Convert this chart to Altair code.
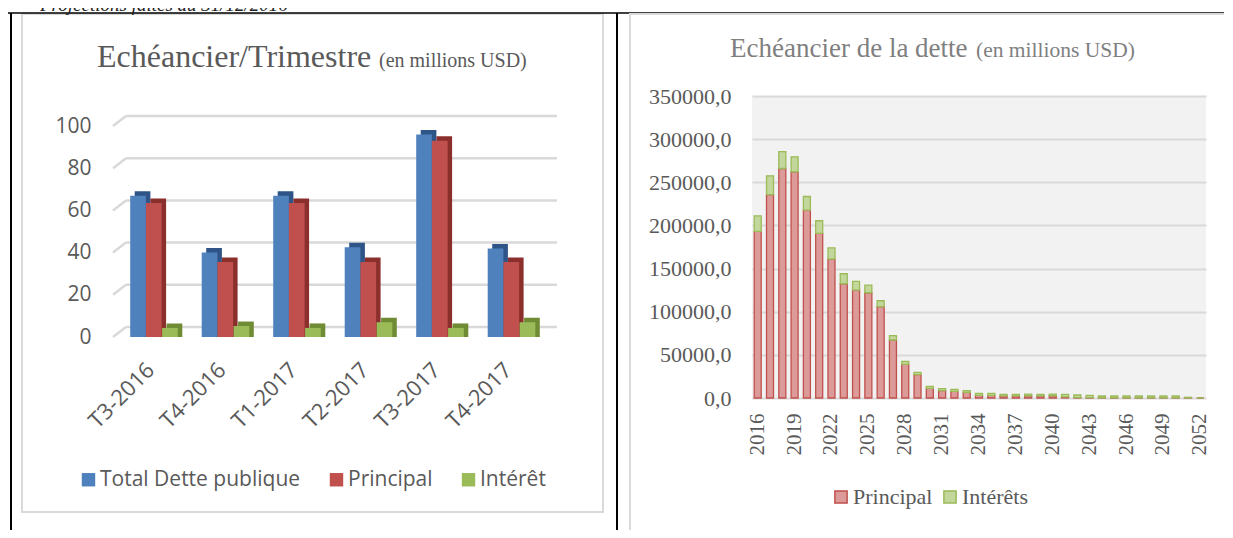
import altair as alt
import pandas as pd

# ---------------- Left chart data (Echéancier/Trimestre) ----------------
quarters = ["T3-2016", "T4-2016", "T1-2017", "T2-2017", "T3-2017", "T4-2017"]
series_left = ["Total Dette publique", "Principal", "Intérêt"]
total_dette = [67.0, 40.0, 67.0, 42.5, 96.0, 42.0]
principal_q = [63.5, 35.5, 63.5, 35.5, 93.0, 35.5]
interet_q = [4.3, 5.2, 4.3, 7.0, 4.3, 7.0]
left_ticks = [0, 20, 40, 60, 80, 100]

# ---------------- Right chart data (Echéancier de la dette) ----------------
years = ["2016", "2017", "2018", "2019", "2020", "2021", "2022", "2023", "2024",
         "2025", "2026", "2027", "2028", "2029", "2030", "2031", "2032", "2033",
         "2034", "2035", "2036", "2037", "2038", "2039", "2040", "2041", "2042",
         "2043", "2044", "2045", "2046", "2047", "2048", "2049", "2050", "2051", "2052"]
principal_y = [193000, 235800, 266000, 262000, 217700, 190700, 161000, 132400, 125100,
               122000, 105800, 67200, 39000, 27000, 11200, 8500, 7700, 6600,
               3100, 3000, 2400, 2400, 2600, 2400, 2600, 1200, 500,
               400, 300, 300, 300, 300, 300, 300, 300, 100, 0]
interets_y = [18000, 21700, 19600, 17500, 15800, 14700, 13100, 11600, 10000,
              8900, 6900, 5000, 3500, 2700, 2300, 2300, 2300, 1900,
              2300, 2400, 1800, 1800, 2000, 1800, 2000, 3000, 3000,
              2700, 2000, 2000, 2000, 2000, 2000, 2000, 2000, 700, 0]
series_right = ["Principal", "Intérêts"]
right_ticks = [0, 50000, 100000, 150000, 200000, 250000, 300000, 350000]
year_label_values = ["2016", "2019", "2022", "2025", "2028", "2031", "2034",
                     "2037", "2040", "2043", "2046", "2049", "2052"]

# ---------------- styles ----------------
left_front = ["#4f81bd", "#c0504d", "#9bbb59"]
left_side = ["#2f5488", "#8b2f2d", "#6f8c35"]
right_fill = ["#dc9b99", "#c3d69b"]
right_stroke = ["#c0504d", "#9bbb59"]
grey_txt = "#595959"
grid_col = "#d9d9d9"

W1, H1 = 429, 241
W2, H2 = 454, 302
ymax_left = 100 * H1 / 211.0

one = pd.DataFrame({"k": [0]})

# ---------------- left panel ----------------
rows = []
for s, vals in zip(series_left, [total_dette, principal_q, interet_q]):
    for q, v in zip(quarters, vals):
        rows.append({"quarter": q, "series": s, "value": v})
df_left = pd.DataFrame(rows)

ysc_l = alt.Scale(domain=[0, ymax_left], nice=False, zero=True)
xsc_l = alt.Scale(domain=quarters, paddingInner=0.34, paddingOuter=0.17)
xaxis_l = alt.Axis(title=None, labelAngle=315, labelFont="Open Sans", labelFontSize=22,
                   labelColor=grey_txt, labelPadding=22, labelOffset=-10, domain=False,
                   ticks=False, grid=False)
yaxis_l = alt.Axis(values=left_ticks, title=None, labelFont="Open Sans", labelFontSize=21,
                   labelColor=grey_txt, labelPadding=27, domain=False, ticks=False,
                   grid=False)
leg_left = alt.Legend(orient="none", legendX=-40, legendY=373, direction="horizontal",
                      title=None, symbolType="square", symbolSize=180,
                      symbolStrokeWidth=0, labelFont="Open Sans", labelFontSize=21,
                      labelColor=grey_txt, labelOffset=1, columnPadding=25, padding=0,
                      labelLimit=400)

layers_l = []
# frames and table lines
layers_l.append(alt.Chart(one).mark_rule(strokeOpacity=0).encode(
    x=alt.value(-110), y=alt.value(-107), y2=alt.value(450)))
layers_l.append(alt.Chart(one).mark_rect(fillOpacity=0, stroke=grid_col, strokeWidth=2).encode(
    x=alt.value(-96), x2=alt.value(485), y=alt.value(-82), y2=alt.value(416)))
layers_l.append(alt.Chart(one).mark_rule(color="black", strokeWidth=1.5).encode(
    x=alt.value(-110), x2=alt.value(1114), y=alt.value(-83)))
layers_l.append(alt.Chart(one).mark_rule(color="black", strokeWidth=2).encode(
    x=alt.value(-107), y=alt.value(-83), y2=alt.value(450)))
layers_l.append(alt.Chart(one).mark_rule(color="black", strokeWidth=2).encode(
    x=alt.value(499), y=alt.value(-83), y2=alt.value(450)))

# 3D-like gridlines
grid_df = pd.DataFrame({"v": left_ticks})
layers_l.append(alt.Chart(grid_df).mark_rule(color=grid_col, strokeWidth=2.5, yOffset=-10).encode(
    y=alt.Y("v:Q", scale=ysc_l, axis=yaxis_l), x=alt.value(8), x2=alt.value(439)))
layers_l.append(alt.Chart(grid_df).mark_rule(color=grid_col, strokeWidth=2.5, y2Offset=-10).encode(
    y=alt.Y("v:Q", scale=ysc_l, axis=yaxis_l), y2=alt.Y2("v"), x=alt.value(-5), x2=alt.value(8)))

# bars
for i, s in enumerate(series_left):
    sub = df_left[df_left["series"] == s]
    dx = (i - 1) * 15.7 + (0.5 if i == 2 else 0)
    layers_l.append(alt.Chart(sub).mark_bar(width=15.7, xOffset=dx + 4.5, yOffset=-4.5,
                                            y2Offset=-4.5, color=left_side[i]).encode(
        x=alt.X("quarter:N", scale=xsc_l, sort=quarters, axis=xaxis_l),
        y=alt.Y("value:Q", scale=ysc_l, axis=yaxis_l, stack=None)))
    layers_l.append(alt.Chart(sub).mark_bar(width=15.7, xOffset=dx).encode(
        x=alt.X("quarter:N", scale=xsc_l, sort=quarters, axis=xaxis_l),
        y=alt.Y("value:Q", scale=ysc_l, axis=yaxis_l, stack=None),
        color=alt.Color("series:N", scale=alt.Scale(domain=series_left, range=left_front),
                        legend=leg_left)))

# titles
layers_l.append(alt.Chart(pd.DataFrame({"t": ["Echéancier/Trimestre"]})).mark_text(
    align="left", baseline="alphabetic", font="Liberation Serif", fontSize=32,
    color=grey_txt).encode(text="t:N", x=alt.value(-21), y=alt.value(-29)))
layers_l.append(alt.Chart(pd.DataFrame({"t": ["(en millions USD)"]})).mark_text(
    align="left", baseline="alphabetic", font="Liberation Serif", fontSize=20,
    color=grey_txt).encode(text="t:N", x=alt.value(261), y=alt.value(-29)))
layers_l.append(alt.Chart(pd.DataFrame({"t": ["Projections faites au 31/12/2016"]})).mark_text(
    align="left", baseline="alphabetic", font="Liberation Serif", fontSize=19,
    fontStyle="italic", color="#222222").encode(text="t:N", x=alt.value(-78), y=alt.value(-85)))

left = alt.layer(*layers_l).properties(width=W1, height=H1)

# ---------------- right panel ----------------
rows = []
for j, (s, vals) in enumerate(zip(series_right, [principal_y, interets_y])):
    for y, v in zip(years, vals):
        rows.append({"year": y, "series": s, "value": v, "ord": j})
df_right = pd.DataFrame(rows)

# legend coordinates are taken from the left panel's origin in this concat
leg_right = alt.Legend(orient="none", legendX=712, legendY=390, direction="horizontal",
                       title=None, symbolType="square", symbolSize=150,
                       symbolStrokeWidth=1.5, labelFont="Liberation Serif",
                       labelFontSize=22, labelColor=grey_txt, labelOffset=1,
                       columnPadding=6, padding=0, labelLimit=400)

layers_r = []
layers_r.append(alt.Chart(one).mark_rect(fillOpacity=0, stroke=grid_col, strokeWidth=2).encode(
    x=alt.value(-122), x2=alt.value(480), y=alt.value(-82), y2=alt.value(436)))
layers_r.append(alt.Chart(df_right).mark_bar(strokeWidth=1.3).encode(
    x=alt.X("year:N", sort=years, scale=alt.Scale(paddingInner=0.43, paddingOuter=0.18),
            axis=alt.Axis(values=year_label_values, labelAngle=270, title=None,
                          labelFont="Liberation Serif", labelFontSize=21,
                          labelColor=grey_txt, labelPadding=15, domain=False,
                          ticks=False, grid=False)),
    y=alt.Y("value:Q", stack="zero", scale=alt.Scale(domain=[0, 350000], nice=False),
            axis=alt.Axis(values=right_ticks, title=None,
                          labelExpr="replace(format(datum.value, '.1f'), '.', ',')",
                          labelFont="Liberation Serif", labelFontSize=22,
                          labelColor=grey_txt, labelPadding=21, domain=False,
                          ticks=False, gridColor=grid_col, gridWidth=2)),
    fill=alt.Fill("series:N", scale=alt.Scale(domain=series_right, range=right_fill),
                  legend=leg_right),
    stroke=alt.Stroke("series:N", scale=alt.Scale(domain=series_right, range=right_stroke),
                      legend=leg_right),
    order=alt.Order("ord:Q")))
layers_r.append(alt.Chart(pd.DataFrame({"t": ["Echéancier de la dette"]})).mark_text(
    align="left", baseline="alphabetic", font="Liberation Serif", fontSize=27,
    color="#7f7f7f").encode(text="t:N", x=alt.value(-22), y=alt.value(-39)))
layers_r.append(alt.Chart(pd.DataFrame({"t": ["(en millions USD)"]})).mark_text(
    align="left", baseline="alphabetic", font="Liberation Serif", fontSize=21.5,
    color="#7f7f7f").encode(text="t:N", x=alt.value(224), y=alt.value(-39)))

right = alt.layer(*layers_r).properties(
    width=W2, height=H2, view=alt.ViewBackground(fill="#f2f2f2", strokeWidth=0))

chart = alt.hconcat(left, right, spacing=205, bounds="flush").properties(
    padding={"left": -1, "top": -19, "right": -9, "bottom": -17},
    background="white"
).configure_view(strokeWidth=0)

chart.save("out.html", embed_options={"renderer": "svg", "actions": False})
